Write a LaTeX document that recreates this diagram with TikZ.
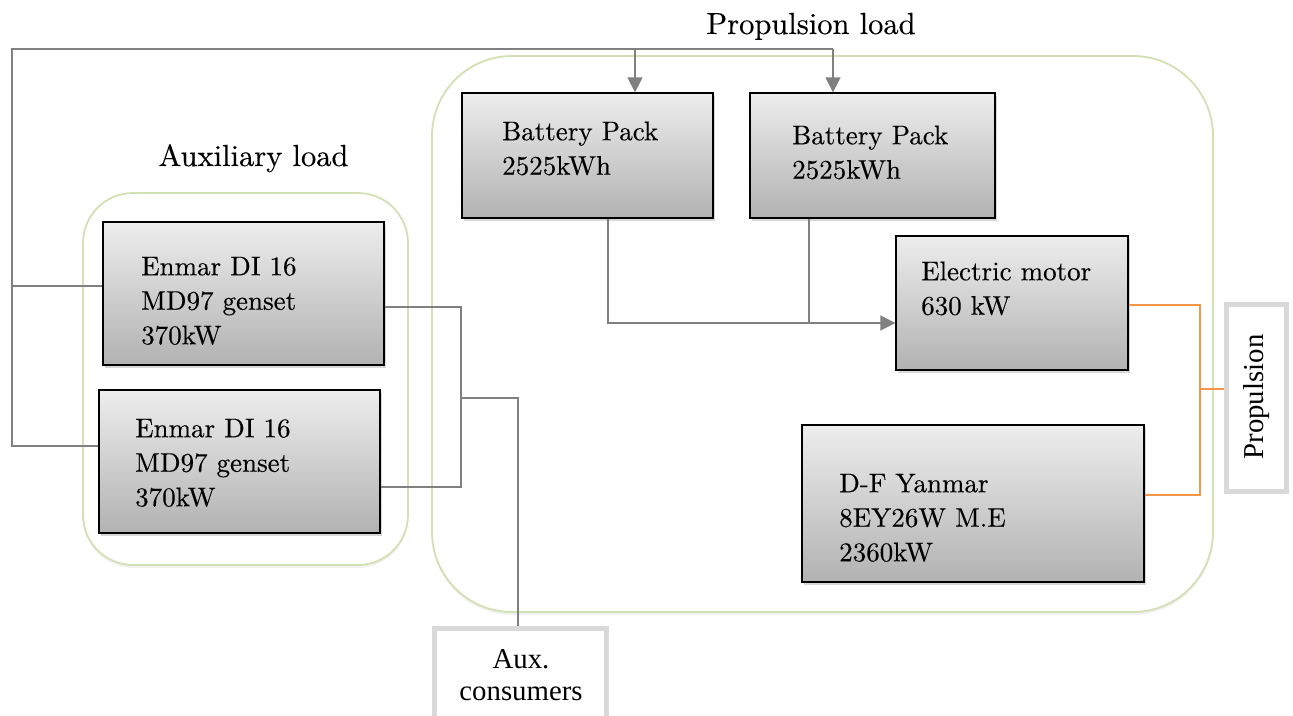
\documentclass[tikz,border=0pt]{standalone}
\usepackage{fontspec}
\newfontfamily\tnr{Liberation Serif}
\newfontfamily\lmten{lmroman10-regular.otf}[FakeBold=0.3]
\usetikzlibrary{arrows.meta,shadows}
\definecolor{grpgreen}{RGB}{210,224,180}
\definecolor{connGray}{RGB}{128,128,128}
\definecolor{orangeLine}{RGB}{247,150,70}
\definecolor{outGray}{RGB}{217,217,217}
\definecolor{shTop}{RGB}{237,237,237}
\definecolor{shBot}{RGB}{178,178,178}
\tikzset{
  comp/.style={draw=black, line width=1.3pt, top color=shTop, bottom color=shBot,
    drop shadow={opacity=0.3, shadow xshift=2pt, shadow yshift=-3pt}, inner sep=0pt},
  grp/.style={draw=grpgreen, line width=1.8pt, fill=white,
    drop shadow={opacity=0.10, shadow xshift=0pt, shadow yshift=-3pt}, inner sep=0pt},
  outbox/.style={draw=outGray, line width=5pt, fill=white, inner sep=0pt},
  conn/.style={draw=connGray, line width=1.6pt},
  arr/.style={-{Triangle[length=15pt,width=15pt]}},
  org/.style={draw=orangeLine, line width=1.5pt},
  boxtext/.style={font=\lmten\fontsize{27}{34.5}\selectfont, align=left, anchor=north west, inner sep=0pt},
  titletext/.style={font=\lmten\fontsize{30.5}{36}\selectfont, anchor=base, inner sep=0pt},
  tnrtext/.style={font=\tnr\fontsize{28.8}{32}\selectfont, align=center, inner sep=0pt}
}
\begin{document}
\begin{tikzpicture}[x=1pt,y=-1pt]
\useasboundingbox (0,0) rectangle (1293,715);
\clip (0,0) rectangle (1293,715);
% group boxes
\node[grp, rounded corners=50pt, minimum width=325pt, minimum height=372pt] (grpA) at (245.5,379) {};
\node[grp, rounded corners=80pt, minimum width=781pt, minimum height=556pt] (grpP) at (822.5,334) {};
% titles
\node[titletext] (tA) at (253.5,166) {Auxiliary load};
\node[titletext] (tP) at (811,34) {Propulsion load};
% component boxes
\node[comp, minimum width=281pt, minimum height=143pt] (g1) at (243.5,293.5) {};
\node[comp, minimum width=281pt, minimum height=143pt] (g2) at (239.5,461.5) {};
\node[comp, minimum width=251pt, minimum height=125pt] (b1) at (587.5,155.5) {};
\node[comp, minimum width=245pt, minimum height=125pt] (b2) at (872.5,155.5) {};
\node[comp, minimum width=232pt, minimum height=134pt] (em) at (1012,303) {};
\node[comp, minimum width=342pt, minimum height=157pt] (df) at (973,503.5) {};
% box texts
\node[boxtext] (g1t) at (141,256.6) {Enmar DI 16\\MD97 genset\\370kW};
\node[boxtext] (g2t) at (135,418.6) {Enmar DI 16\\MD97 genset\\370kW};
\node[boxtext] (b1t) at (502,121.3) {Battery Pack\\2525kWh};
\node[boxtext] (b2t) at (792,125.3) {Battery Pack\\2525kWh};
\node[boxtext] (emt) at (921,261.3) {Electric motor\\630 kW};
\node[boxtext] (dft) at (839,473.6) {D-F Yanmar\\8EY26W M.E\\2360kW};
% output boxes
\node[outbox, minimum width=172pt, minimum height=110pt] (aux) at (520.5,683) {};
\node[tnrtext, anchor=north] (auxt) at (521,649) {Aux.\\consumers};
\node[outbox, minimum width=60pt, minimum height=187pt] (prop) at (1256,397.5) {};
\node[tnrtext, rotate=90] (propt) at (1257,397) {Propulsion};
% coordinates
\coordinate (tl) at (12,49);
\coordinate (tr) at (833,49);
\coordinate (a1) at (635,49);
\coordinate (lb) at (12,447);
\coordinate (l1) at (12,286);
\coordinate (l2) at (12,446);
\coordinate (j1) at (461,307);
\coordinate (j2) at (461,487);
\coordinate (jm) at (461,398);
\coordinate (ja) at (518,398);
\coordinate (bj1) at (608,323);
\coordinate (bj2) at (809,323);
\coordinate (oj1) at (1200,305);
\coordinate (oj2) at (1200,495);
\coordinate (ojm) at (1200,389);
% gray connectors
\draw[conn] (lb) -- (tl) -- (tr);
\draw[conn] (l1) -- (g1.west |- l1);
\draw[conn] (l2) -- (g2.west |- l2);
\draw[conn, arr] (a1) -- (b1.north -| a1);
\draw[conn, arr] (tr) -- (b2.north -| tr);
\draw[conn] (g1.east |- j1) -- (j1) -- (j2) -- (g2.east |- j2);
\draw[conn] (jm) -- (ja) -- (aux.north -| ja);
\draw[conn, arr] (b1.south -| bj1) -- (bj1) -- (em.west |- bj1);
\draw[conn] (b2.south -| bj2) -- (bj2);
% orange connectors
\draw[org] (em.east |- oj1) -- (oj1) -- (oj2) -- (df.east |- oj2);
\draw[org] (ojm) -- (prop.west |- ojm);
\end{tikzpicture}
\end{document}
